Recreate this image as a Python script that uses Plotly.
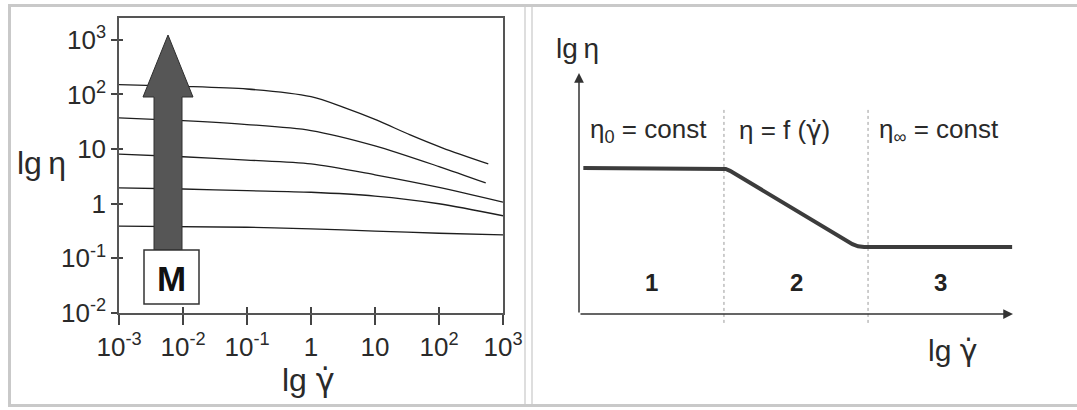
import plotly.graph_objects as go

W, H = 1077, 410
FONT = "Liberation Sans, Arial, Helvetica, sans-serif"
INK = "#2a2a2a"
GAMMA_DOT = "<span style='font-family:DejaVu Sans'>γ̇</span>"

# ---------------- Left chart data (log10 shear rate, log10 viscosity) ----------------
lg_rate_1 = [-3, -2, -1, 0, 0.5, 1.03, 1.55, 2.06, 2.77]
lg_eta_1 = [2.18, 2.15, 2.10, 1.96, 1.77, 1.53, 1.26, 1.02, 0.73]
lg_rate_2 = [-3, -2, -1, 0, 1, 2, 2.73]
lg_eta_2 = [1.57, 1.52, 1.45, 1.34, 1.06, 0.68, 0.38]
lg_rate_3 = [-3, -2, -1, 0, 1, 2, 3]
lg_eta_3 = [0.91, 0.86, 0.80, 0.73, 0.53, 0.30, 0.03]
lg_rate_4 = [-3, -2, -1, 0, 1, 2, 3]
lg_eta_4 = [0.29, 0.27, 0.24, 0.21, 0.14, 0.0, -0.22]
lg_rate_5 = [-3, -1, 0, 1, 2, 3]
lg_eta_5 = [-0.41, -0.43, -0.46, -0.50, -0.54, -0.57]

x_tickvals = [1e-3, 1e-2, 1e-1, 1, 10, 1e2, 1e3]
x_ticktext = ["10<sup>-3</sup>", "10<sup>-2</sup>", "10<sup>-1</sup>", "1", "10",
              "10<sup>2</sup>", "10<sup>3</sup>"]
y_tickvals = [1e-2, 1e-1, 1, 10, 1e2, 1e3]
y_ticktext = ["10<sup>-2</sup>", "10<sup>-1</sup>", "1", "10", "10<sup>2</sup>", "10<sup>3</sup>"]

# ---------------- Right chart data (schematic flow curve) ----------------
flow_x = [0.01, 0.328, 0.338, 0.348, 0.615, 0.630, 0.643, 0.657, 0.998]
flow_y = [0.606, 0.606, 0.602, 0.594, 0.305, 0.290, 0.281, 0.278, 0.278]
region_bounds = [0.334, 0.666]
region_labels = ["1", "2", "3"]
region_headers = ["η<sub>0</sub> = const", "η = f (" + GAMMA_DOT + ")", "η<sub>∞</sub> = const"]


def px(x):
    return x / W


def py(y):
    return 1 - y / H


fig = go.Figure()

curves = [(lg_rate_1, lg_eta_1), (lg_rate_2, lg_eta_2), (lg_rate_3, lg_eta_3),
          (lg_rate_4, lg_eta_4), (lg_rate_5, lg_eta_5)]
for lx, ly in curves:
    fig.add_trace(go.Scatter(
        x=[10 ** v for v in lx], y=[10 ** v for v in ly], mode="lines",
        line=dict(color="#1e1e1e", width=1.3, shape="spline", smoothing=0.8),
        xaxis="x", yaxis="y", showlegend=False, hoverinfo="skip"))

# invisible trace to create the overlay (inside ticks) axes
fig.add_trace(go.Scatter(x=[1], y=[1], mode="markers", marker=dict(opacity=0),
                         xaxis="x3", yaxis="y3", showlegend=False, hoverinfo="skip"))

# right chart
for b in region_bounds:
    fig.add_trace(go.Scatter(
        x=[b, b], y=[-0.037, 0.859], mode="lines",
        line=dict(color="#9a9a9a", width=1, dash="dot"),
        xaxis="x2", yaxis="y2", showlegend=False, hoverinfo="skip"))
fig.add_trace(go.Scatter(
    x=flow_x, y=flow_y, mode="lines",
    line=dict(color="#3c3c3c", width=4),
    xaxis="x2", yaxis="y2", showlegend=False, hoverinfo="skip"))

left_x_dom = [px(119), px(503)]
left_y_dom = [py(313), py(18)]

common_tick = dict(tickfont=dict(family=FONT, size=26, color=INK), showgrid=False,
                   zeroline=False, automargin=False)

fig.update_layout(
    width=W, height=H, margin=dict(l=0, r=0, t=0, b=0, autoexpand=False),
    paper_bgcolor="white", plot_bgcolor="rgba(0,0,0,0)",
    xaxis=dict(type="log", range=[-3, 3], domain=left_x_dom, anchor="y",
               tickvals=x_tickvals, ticktext=x_ticktext, ticks="outside", ticklen=10,
               tickwidth=1.5, tickcolor="#444", showline=True, linecolor="#555",
               linewidth=1.5, mirror=True, **common_tick),
    yaxis=dict(type="log", range=[-2, 3.4], domain=left_y_dom, anchor="x",
               tickvals=y_tickvals, ticktext=y_ticktext, ticks="outside", ticklen=6,
               tickwidth=1.5, tickcolor="#444", showline=True, linecolor="#555",
               linewidth=1.5, mirror=True, **common_tick),
    xaxis3=dict(type="log", range=[-3, 3], overlaying="x", anchor="y3",
                tickvals=x_tickvals, ticks="inside", ticklen=6, tickwidth=1.5,
                tickcolor="#444", showticklabels=False, showline=False,
                showgrid=False, zeroline=False, automargin=False),
    yaxis3=dict(type="log", range=[-2, 3.4], overlaying="y", anchor="x3",
                tickvals=y_tickvals, ticks="inside", ticklen=4, tickwidth=1.5,
                tickcolor="#444", showticklabels=False, showline=False,
                showgrid=False, zeroline=False, automargin=False),
    xaxis2=dict(range=[0, 1], domain=[px(579), px(1013)], anchor="y2", visible=False,
                automargin=False),
    yaxis2=dict(range=[-0.1, 1.0], domain=[py(338.1), py(73)], anchor="x2", visible=False,
                automargin=False),
)

shapes = []
# picture frame
frame = "#c9c9c9"
shapes.append(dict(type="line", xref="paper", yref="paper", x0=px(8), x1=1, y0=py(5.5),
                   y1=py(5.5), line=dict(color=frame, width=3)))
shapes.append(dict(type="line", xref="paper", yref="paper", x0=px(8), x1=1, y0=py(405.5),
                   y1=py(405.5), line=dict(color=frame, width=3)))
shapes.append(dict(type="line", xref="paper", yref="paper", x0=px(9.5), x1=px(9.5),
                   y0=py(5), y1=py(406), line=dict(color=frame, width=3)))
shapes.append(dict(type="line", xref="paper", yref="paper", x0=px(525), x1=px(525),
                   y0=py(7), y1=py(404), line=dict(color="#bdbdbd", width=1)))
shapes.append(dict(type="line", xref="paper", yref="paper", x0=px(532), x1=px(532),
                   y0=py(7), y1=py(404), line=dict(color="#bdbdbd", width=1)))

# big arrow (molar mass increases)
arrow_pts = [(168, 35), (193, 97), (182, 97), (182, 250), (154, 250), (154, 97), (143, 97)]
path = "M " + " L ".join(f"{px(a):.5f},{py(b):.5f}" for a, b in arrow_pts) + " Z"
shapes.append(dict(type="path", xref="paper", yref="paper", path=path,
                   fillcolor="#565656", line=dict(color="#2e2e2e", width=1)))
# M box
shapes.append(dict(type="rect", xref="paper", yref="paper", x0=px(144), x1=px(199),
                   y0=py(304), y1=py(250), fillcolor="white",
                   line=dict(color="#333", width=1.5)))
fig.update_layout(shapes=shapes)

ann = []
ann.append(dict(text="<b>M</b>", x=px(171.5), y=py(278), xref="paper", yref="paper",
                showarrow=False, font=dict(family=FONT, size=35, color="#111"),
                xanchor="center", yanchor="middle"))
ann.append(dict(text="lg\u2009η", x=px(41), y=py(163), xref="paper", yref="paper",
                showarrow=False, font=dict(family=FONT, size=32, color=INK),
                xanchor="center", yanchor="middle"))
ann.append(dict(text="lg " + GAMMA_DOT, x=px(308), y=py(380), xref="paper", yref="paper",
                showarrow=False, font=dict(family=FONT, size=32, color=INK),
                xanchor="center", yanchor="middle"))

# right chart annotations
ann.append(dict(text="lg\u2009η", x=px(577), y=py(48), xref="paper", yref="paper",
                showarrow=False, font=dict(family=FONT, size=28, color=INK),
                xanchor="center", yanchor="middle"))
ann.append(dict(text="lg " + GAMMA_DOT, x=px(952), y=py(350), xref="paper", yref="paper",
                showarrow=False, font=dict(family=FONT, size=30, color=INK),
                xanchor="center", yanchor="middle"))
# axes arrows
ann.append(dict(text="", x=0, y=1, ax=0, ay=0, xref="x2", yref="y2", axref="x2",
                ayref="y2", showarrow=True, arrowhead=2, arrowsize=1.3, arrowwidth=1.5,
                arrowcolor="#333"))
ann.append(dict(text="", x=1, y=0, ax=0, ay=0, xref="x2", yref="y2", axref="x2",
                ayref="y2", showarrow=True, arrowhead=2, arrowsize=1.3, arrowwidth=1.5,
                arrowcolor="#333"))

starts = [0.0] + region_bounds
ends = region_bounds + [1.0]
for i, lab in enumerate(region_labels):
    ann.append(dict(text=f"<b>{lab}</b>", x=(starts[i] + ends[i]) / 2, y=0.129,
                    xref="x2", yref="y2", showarrow=False,
                    font=dict(family=FONT, size=24, color="#222"),
                    xanchor="center", yanchor="middle"))
header_x = [0.02, starts[1] + 0.03, starts[2] + 0.02]
for i, txt in enumerate(region_headers):
    ann.append(dict(text=txt, x=header_x[i], y=0.763, xref="x2", yref="y2",
                    showarrow=False, font=dict(family=FONT, size=26, color=INK),
                    xanchor="left", yanchor="middle"))
fig.update_layout(annotations=ann)

fig.write_html("out.html")
